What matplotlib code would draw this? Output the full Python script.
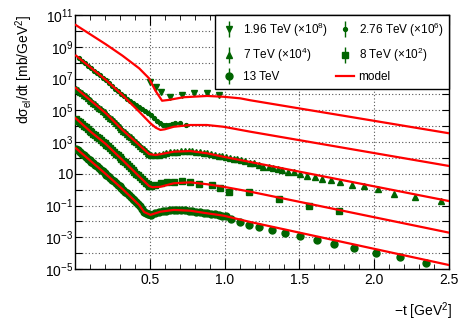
import numpy as np
import matplotlib
matplotlib.use("Agg")
import matplotlib.pyplot as plt
from matplotlib.lines import Line2D
from matplotlib.ticker import FixedLocator, MultipleLocator, NullFormatter

plt.rcParams["font.family"] = ["Liberation Sans", "DejaVu Sans"]
plt.rcParams["mathtext.fontset"] = "custom"
plt.rcParams["mathtext.rm"] = "Liberation Sans"
plt.rcParams["mathtext.it"] = "Liberation Sans:italic"
plt.rcParams["mathtext.default"] = "regular"

GREEN = "#006400"
RED = "#ff0000"

# all values are log10(dsigma/dt) including the scale factor of each energy

# model curves
model_196_t = [0.005, 0.206, 0.317, 0.429, 0.495, 0.537, 0.582, 0.626, 0.726, 0.883, 0.993, 1.105, 1.171, 2.5]
model_196_y = [10.37, 9.155, 8.44, 7.64, 7.01, 6.24, 5.60, 5.65, 5.82, 5.90, 5.85, 5.75, 5.63, 3.55]

model_276_t = [0.007, 0.206, 0.317, 0.429, 0.504, 0.54, 0.571, 0.60, 0.63, 0.66, 0.771, 0.882, 0.993, 1.171, 2.5]
model_276_y = [8.44, 6.91, 5.96, 4.91, 4.18, 3.90, 3.76, 3.80, 3.88, 3.96, 4.07, 4.07, 3.96, 3.65, 1.49]

model_7_t = [0.005, 0.206, 0.317, 0.429, 0.495, 0.539, 0.571, 0.66, 0.771, 0.882, 0.993, 1.172, 2.5]
model_7_y = [6.40, 4.81, 3.76, 2.81, 2.24, 2.18, 2.23, 2.39, 2.43, 2.29, 2.07, 1.74, -0.72]

model_8_t = [0.005, 0.103, 0.206, 0.317, 0.429, 0.495, 0.517, 0.571, 0.66, 0.771, 0.882, 0.993, 1.172, 2.5]
model_8_y = [4.49, 3.66, 2.87, 1.87, 0.83, 0.23, 0.15, 0.18, 0.40, 0.46, 0.34, 0.18, -0.13, -2.71]

model_13_t = [0.007, 0.206, 0.317, 0.429, 0.462, 0.504, 0.571, 0.66, 0.771, 0.882, 0.993, 1.172, 2.5]
model_13_y = [2.60, 0.98, 0.04, -0.97, -1.41, -1.59, -1.39, -1.28, -1.33, -1.49, -1.64, -2.04, -4.75]

# data
d196_t = [0.499, 0.539, 0.577, 0.634, 0.716, 0.798, 0.880, 0.960]
d196_y = [6.81, 6.46, 6.13, 5.85, 5.94, 6.07, 6.07, 5.94]

d276_t = [0.03, 0.05, 0.07, 0.09, 0.11, 0.13, 0.15, 0.17, 0.19, 0.21, 0.23, 0.25,
          0.27, 0.29, 0.31, 0.33, 0.35, 0.37, 0.39, 0.41, 0.43, 0.45, 0.47, 0.49,
          0.51, 0.53, 0.55, 0.57, 0.59, 0.61, 0.63, 0.65, 0.67, 0.70, 0.74]
d276_y = [8.27, 8.11, 7.96, 7.80, 7.65, 7.50, 7.34, 7.19, 7.03, 6.88, 6.71, 6.54,
          6.37, 6.20, 6.03, 5.88, 5.74, 5.60, 5.46, 5.34, 5.22, 5.10, 4.96, 4.82,
          4.67, 4.51, 4.34, 4.18, 4.08, 4.04, 4.08, 4.16, 4.22, 4.18, 4.10]

d7_t = [0.010, 0.0225, 0.035, 0.0475, 0.060, 0.0725, 0.085, 0.0975, 0.110, 0.1225,
        0.135, 0.1475, 0.160, 0.1725, 0.185, 0.1975, 0.210, 0.2225, 0.235, 0.2475,
        0.260, 0.2725, 0.285, 0.2975, 0.310, 0.3225, 0.335, 0.3475, 0.360, 0.3725,
        0.385, 0.3975, 0.410, 0.4225, 0.435, 0.4475, 0.460, 0.4725, 0.485, 0.4975,
        0.510, 0.535, 0.560, 0.585, 0.610, 0.635, 0.660, 0.685, 0.710, 0.735,
        0.760, 0.785, 0.810, 0.835, 0.860, 0.885, 0.910, 0.935, 0.960, 0.985,
        1.010, 1.035, 1.060, 1.085, 1.110, 1.135,
        1.172, 1.194, 1.227, 1.260, 1.294, 1.323, 1.354, 1.387, 1.427, 1.465,
        1.505, 1.550, 1.601, 1.654, 1.710, 1.774, 1.850, 1.933, 2.024, 2.133,
        2.273, 2.445]
d7_y = [6.36, 6.26, 6.16, 6.07, 5.97, 5.87, 5.77, 5.67, 5.57, 5.47,
        5.37, 5.27, 5.17, 5.08, 4.98, 4.88, 4.77, 4.66, 4.54, 4.42,
        4.30, 4.18, 4.06, 3.95, 3.83, 3.72, 3.61, 3.50, 3.39, 3.29,
        3.18, 3.08, 2.97, 2.87, 2.76, 2.65, 2.54, 2.44, 2.33, 2.25,
        2.20, 2.18, 2.21, 2.27, 2.31, 2.35, 2.39, 2.40, 2.41, 2.42,
        2.43, 2.41, 2.38, 2.35, 2.32, 2.29, 2.24, 2.19, 2.14, 2.09,
        2.04, 1.99, 1.94, 1.90, 1.85, 1.80,
        1.70, 1.66, 1.55, 1.44, 1.41, 1.34, 1.28, 1.24, 1.13, 1.11,
        0.98, 0.86, 0.79, 0.69, 0.61, 0.50, 0.29, 0.21, 0.06, -0.29,
        -0.46, -0.72]

d8_t = [0.010, 0.0225, 0.035, 0.0475, 0.060, 0.0725, 0.085, 0.0975, 0.110, 0.1225,
        0.135, 0.1475, 0.160, 0.1725, 0.185, 0.1975, 0.210, 0.2225, 0.235, 0.2475,
        0.260, 0.2725, 0.285, 0.2975, 0.310, 0.3225, 0.335, 0.3475, 0.360, 0.3725,
        0.385, 0.3975, 0.410, 0.4225, 0.435, 0.4475, 0.460, 0.4725, 0.485, 0.4975,
        0.510, 0.537, 0.576, 0.615, 0.660, 0.716, 0.771, 0.826, 0.916, 0.971,
        1.027, 1.160, 1.365, 1.565, 1.766]
d8_y = [4.45, 4.35, 4.24, 4.14, 4.03, 3.92, 3.81, 3.71, 3.61, 3.52,
        3.42, 3.33, 3.23, 3.13, 3.03, 2.93, 2.83, 2.72, 2.61, 2.50,
        2.38, 2.27, 2.16, 2.05, 1.94, 1.83, 1.71, 1.60, 1.48, 1.36,
        1.24, 1.13, 1.01, 0.90, 0.78, 0.67, 0.55, 0.44, 0.33, 0.25,
        0.20, 0.30, 0.40, 0.50, 0.50, 0.54, 0.46, 0.34, 0.29, 0.12,
        -0.13, -0.18, -0.61, -1.03, -1.33]

d13_t = [0.010, 0.0225, 0.035, 0.0475, 0.060, 0.0725, 0.085, 0.0975, 0.110, 0.1225,
         0.135, 0.1475, 0.160, 0.1725, 0.185, 0.1975, 0.210, 0.2225, 0.235, 0.2475,
         0.260, 0.2725, 0.285, 0.2975, 0.310, 0.3225, 0.335, 0.3475, 0.360, 0.3725,
         0.385, 0.3975, 0.410, 0.4225, 0.435, 0.4475, 0.460, 0.4725, 0.485, 0.4975,
         0.510, 0.535, 0.560, 0.585, 0.610, 0.635, 0.660, 0.685, 0.710, 0.735,
         0.760, 0.785, 0.810, 0.835, 0.860, 0.885, 0.910, 0.935, 0.960, 0.985,
         1.010, 1.045, 1.105, 1.165, 1.232, 1.316, 1.405, 1.505, 1.617, 1.734,
         1.868, 2.013, 2.173, 2.347]
d13_y = [2.58, 2.48, 2.37, 2.27, 2.17, 2.07, 1.96, 1.86, 1.76, 1.66,
         1.56, 1.46, 1.35, 1.25, 1.15, 1.05, 0.95, 0.84, 0.73, 0.63,
         0.52, 0.42, 0.31, 0.21, 0.10, -0.01, -0.12, -0.23, -0.35, -0.46,
         -0.57, -0.68, -0.80, -0.92, -1.04, -1.22, -1.38, -1.46, -1.51, -1.55,
         -1.57, -1.50, -1.42, -1.37, -1.34, -1.31, -1.28, -1.29, -1.30, -1.31,
         -1.32, -1.34, -1.38, -1.42, -1.46, -1.49, -1.53, -1.56, -1.60, -1.63,
         -1.68, -1.82, -2.05, -2.20, -2.34, -2.54, -2.71, -2.92, -3.17, -3.43,
         -3.70, -4.01, -4.26, -4.64]

labels = [r"1.96 TeV ($\times$10$^{8}$)", r"7 TeV ($\times$10$^{4}$)", "13 TeV",
          r"2.76 TeV ($\times$10$^{6}$)", r"8 TeV ($\times$10$^{2}$)", "model"]


def pw(v):
    return np.power(10.0, np.asarray(v))


fig = plt.figure(figsize=(4.73, 3.21), dpi=100)
ax = fig.add_axes([75 / 473, 1 - 269 / 321, 374 / 473, 254 / 321])

ax.plot(d196_t, pw(d196_y), "v", color=GREEN, ms=5, zorder=3)
ax.plot(d276_t, pw(d276_y), "o", color=GREEN, ms=2.8, zorder=3)
ax.plot(d7_t, pw(d7_y), "^", color=GREEN, ms=5, zorder=3)
ax.plot(d8_t, pw(d8_y), "s", color=GREEN, ms=4.5, zorder=3)
ax.plot(d13_t, pw(d13_y), "o", color=GREEN, ms=5, zorder=3)

for mt, my in [(model_196_t, model_196_y), (model_276_t, model_276_y),
               (model_7_t, model_7_y), (model_8_t, model_8_y),
               (model_13_t, model_13_y)]:
    ax.plot(mt, pw(my), "-", color=RED, lw=1.6, zorder=4)

ax.set_yscale("log")
ax.set_xlim(0, 2.5)
ax.set_ylim(1e-5, 1e11)

ax.xaxis.set_major_locator(FixedLocator([0.5, 1.0, 1.5, 2.0, 2.5]))
ax.set_xticklabels(["0.5", "1.0", "1.5", "2.0", "2.5"])
ax.xaxis.set_minor_locator(MultipleLocator(0.1))

decades = list(range(-5, 12))
ax.yaxis.set_major_locator(FixedLocator([10.0 ** k for k in decades]))
ylabels = []
for k in decades:
    if k % 2 == 0:
        ylabels.append("")
    elif k == 1:
        ylabels.append("10")
    else:
        ylabels.append("10$^{%d}$" % k)
ax.set_yticklabels(ylabels)
ax.yaxis.set_minor_locator(FixedLocator([]))
ax.yaxis.set_minor_formatter(NullFormatter())

ax.tick_params(which="both", direction="in", top=True, right=True, labelsize=10)
ax.tick_params(axis="x", which="major", length=7, pad=3)
ax.tick_params(axis="x", which="minor", length=3.5)
ax.tick_params(axis="y", which="major", length=5, pad=1)

ax.grid(True, which="major", color="#555555", linestyle=(0, (1, 2)), linewidth=0.8)
for s in ax.spines.values():
    s.set_linewidth(1.0)

ax.set_xlabel("\u2212t [GeV$^{2}$]", fontsize=10, loc="right")
ax.xaxis.set_label_coords(1.008, -0.125)
ax.set_ylabel("d\u03c3$_{el}$/dt [mb/GeV$^{2}$]", fontsize=10, loc="top")
ax.yaxis.set_label_coords(-0.108, 1.0)

bar = dict(marker="|", markersize=12, color=GREEN, linestyle="None", mew=1)
handles = [
    (Line2D([], [], **bar), Line2D([], [], marker="v", ms=5, color=GREEN, linestyle="None")),
    (Line2D([], [], **bar), Line2D([], [], marker="^", ms=5, color=GREEN, linestyle="None")),
    (Line2D([], [], **bar), Line2D([], [], marker="o", ms=5, color=GREEN, linestyle="None")),
    (Line2D([], [], **bar), Line2D([], [], marker="o", ms=2.8, color=GREEN, linestyle="None")),
    (Line2D([], [], **bar), Line2D([], [], marker="s", ms=4.5, color=GREEN, linestyle="None")),
    Line2D([], [], color=RED, lw=1.6),
]
leg = ax.legend(handles, labels, ncol=2, loc="upper right", bbox_to_anchor=(1.0, 1.0),
                borderaxespad=0, fancybox=False, edgecolor="black", framealpha=1,
                fontsize=8.5, handlelength=1.5, handletextpad=0.4, columnspacing=0.7,
                labelspacing=0.62, borderpad=0.45)
leg.get_frame().set_linewidth(1.0)
leg.set_zorder(10)

fig.savefig("out.png", dpi=100)
